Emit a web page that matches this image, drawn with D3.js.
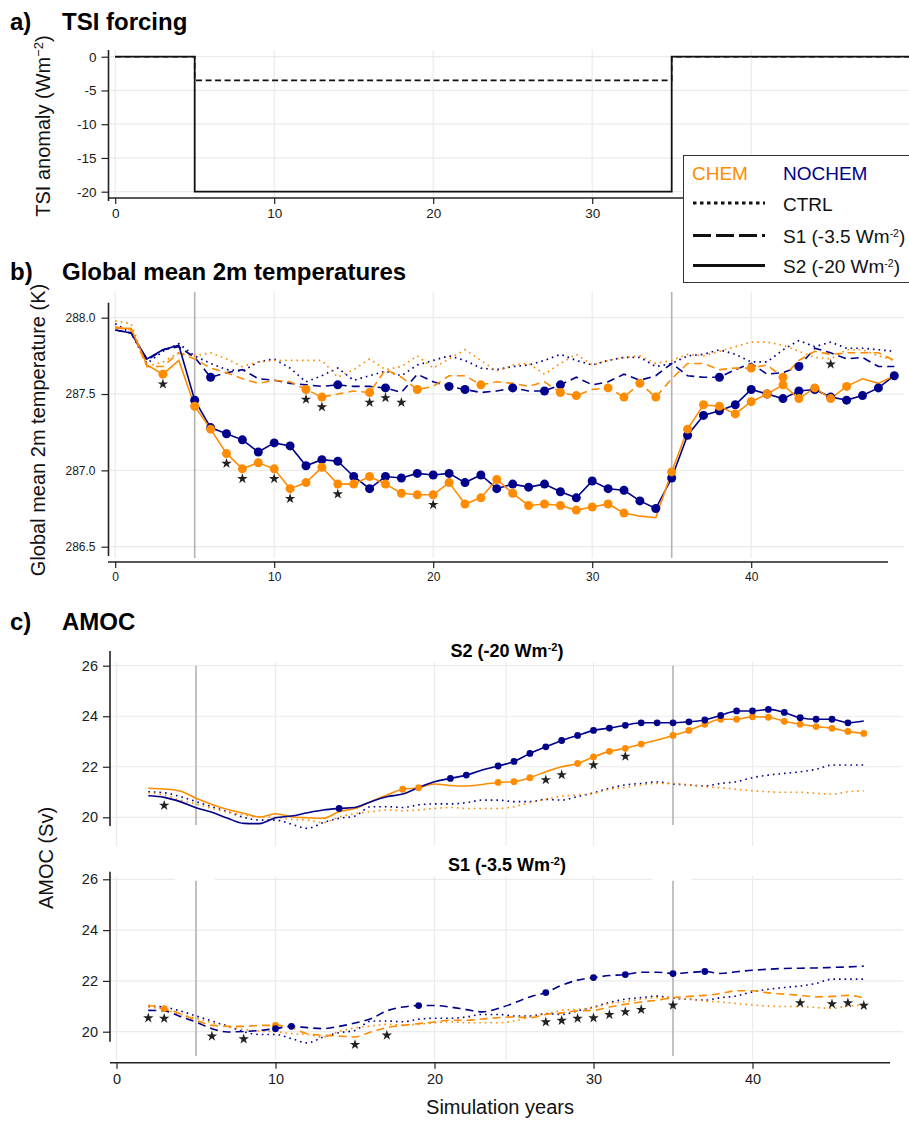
<!DOCTYPE html>
<html>
<head>
<meta charset="utf-8">
<script src="https://cdn.jsdelivr.net/npm/d3@7"></script>
<style>
  body { margin: 0; background: #fff; }
  text { font-family: "Liberation Sans", Arial, Helvetica, sans-serif; }
</style>
</head>
<body>
<div id="chart"></div>
<script>
// ---- data ----
// a) TSI forcing, step changes
const tsiYears = [0, 5, 35, 50];
const tsiS1 = [0, -3.5, 0, 0];
const tsiS2 = [0, -20, 0, 0];

// b) global mean 2m temperature (K), years 0..49
const tempYears = d3.range(0, 50);
const tempChemS2 = [287.93, 287.93, 287.69, 287.63, 287.72, 287.42, 287.27, 287.11, 287.01, 287.05,
  287.01, 286.88, 286.92, 287.02, 286.91, 286.91, 286.96, 286.91, 286.85, 286.84,
  286.84, 286.92, 286.78, 286.82, 286.94, 286.85, 286.77, 286.78, 286.77, 286.74,
  286.76, 286.78, 286.72, 286.70, 286.69, 286.99, 287.27, 287.43, 287.42, 287.37,
  287.45, 287.50, 287.56, 287.47, 287.54, 287.47, 287.55, 287.60, 287.57, 287.62];
const tempNochemS2 = [287.92, 287.90, 287.73, 287.79, 287.82, 287.46, 287.28, 287.24, 287.20, 287.12,
  287.18, 287.16, 287.03, 287.07, 287.06, 286.96, 286.88, 286.96, 286.95, 286.98,
  286.97, 286.98, 286.92, 286.97, 286.88, 286.91, 286.89, 286.91, 286.86, 286.82,
  286.93, 286.88, 286.87, 286.80, 286.75, 286.95, 287.23, 287.36, 287.39, 287.43,
  287.53, 287.50, 287.47, 287.52, 287.53, 287.48, 287.46, 287.49, 287.54, 287.62];
const tempChemS1 = [287.94, 287.92, 287.68, 287.68, 287.77, 287.73, 287.67, 287.64, 287.60, 287.57,
  287.59, 287.58, 287.53, 287.48, 287.50, 287.52, 287.51, 287.66, 287.61, 287.53,
  287.55, 287.62, 287.62, 287.56, 287.58, 287.57, 287.55, 287.58, 287.51, 287.49,
  287.53, 287.54, 287.48, 287.57, 287.48, 287.60, 287.70, 287.70, 287.66, 287.67,
  287.67, 287.69, 287.61, 287.72, 287.78, 287.76, 287.77, 287.77, 287.77, 287.72];
const tempNochemS1 = [287.92, 287.90, 287.72, 287.79, 287.81, 287.74, 287.61, 287.64, 287.66, 287.60,
  287.59, 287.57, 287.56, 287.55, 287.56, 287.55, 287.55, 287.54, 287.51, 287.63,
  287.58, 287.55, 287.53, 287.51, 287.52, 287.54, 287.52, 287.52, 287.56, 287.61,
  287.56, 287.58, 287.63, 287.59, 287.62, 287.70, 287.62, 287.61, 287.61, 287.66,
  287.70, 287.63, 287.64, 287.68, 287.80, 287.77, 287.73, 287.74, 287.68, 287.68];
const tempChemCtrl = [287.98, 287.96, 287.68, 287.71, 287.77, 287.75, 287.77, 287.73, 287.68, 287.71,
  287.72, 287.72, 287.72, 287.72, 287.61, 287.66, 287.73, 287.66, 287.68, 287.75,
  287.67, 287.73, 287.79, 287.72, 287.65, 287.69, 287.70, 287.63, 287.70, 287.76,
  287.69, 287.72, 287.74, 287.75, 287.70, 287.72, 287.76, 287.75, 287.78, 287.81,
  287.84, 287.84, 287.82, 287.78, 287.74, 287.73, 287.79, 287.79, 287.75, 287.72];
const tempNochemCtrl = [287.96, 287.90, 287.70, 287.78, 287.83, 287.75, 287.70, 287.66, 287.65, 287.71,
  287.73, 287.67, 287.58, 287.62, 287.67, 287.59, 287.62, 287.65, 287.62, 287.69,
  287.72, 287.75, 287.72, 287.67, 287.66, 287.68, 287.69, 287.72, 287.76, 287.72,
  287.69, 287.72, 287.74, 287.74, 287.68, 287.70, 287.75, 287.76, 287.79, 287.76,
  287.71, 287.71, 287.79, 287.85, 287.81, 287.84, 287.80, 287.80, 287.79, 287.78];
// years marked significant vs CTRL (dots) and CHEM vs NOCHEM (stars)
const tempChemS2Dots = [3, 5, 6, 7, 8, 9, 10, 11, 12, 13, 14, 15, 16, 17, 18, 19, 20, 21, 22, 23, 24, 25, 26,
  27, 28, 29, 30, 31, 32, 35, 36, 37, 38, 39, 40, 41, 42, 43, 44, 45, 46];
const tempNochemS2Dots = [5, 6, 7, 8, 9, 10, 11, 12, 13, 14, 15, 16, 17, 18, 19, 20, 21, 22, 23, 24, 25, 26,
  27, 28, 29, 30, 31, 32, 33, 34, 35, 36, 37, 38, 39, 40, 41, 42, 43, 44, 45, 46, 47, 48, 49];
const tempChemS1Dots = [12, 13, 16, 19, 23, 28, 29, 31, 32, 33, 34, 40, 42];
const tempNochemS1Dots = [6, 14, 17, 21, 22, 25, 27, 28, 38, 43];
const tempStarsS2 = [3, 7, 8, 10, 11, 14, 20];
const tempStarsS1 = [12, 13, 16, 17, 18, 45];

// c) AMOC (Sv), years 2..47
const amocYears = d3.range(2, 48);
const amocChemS2 = [21.15, 21.12, 21.04, 20.75, 20.51, 20.31, 20.16, 20.01, 20.14, 20.02,
  19.98, 19.96, 20.22, 20.35, 20.62, 20.88, 21.11, 21.17, 21.32, 21.26,
  21.24, 21.30, 21.38, 21.41, 21.57, 21.80, 22.00, 22.13, 22.39, 22.61,
  22.73, 22.90, 23.06, 23.24, 23.44, 23.68, 23.88, 23.88, 23.98, 23.96,
  23.80, 23.68, 23.59, 23.52, 23.40, 23.32];
const amocNochemS2 = [20.85, 20.79, 20.62, 20.38, 20.20, 19.96, 19.76, 19.75, 19.98, 20.05,
  20.18, 20.29, 20.35, 20.39, 20.62, 20.81, 20.92, 21.18, 21.41, 21.54,
  21.67, 21.87, 22.03, 22.21, 22.53, 22.79, 23.04, 23.24, 23.44, 23.53,
  23.64, 23.74, 23.74, 23.74, 23.78, 23.85, 24.03, 24.21, 24.21, 24.27,
  24.15, 23.94, 23.88, 23.88, 23.74, 23.81];
const amocChemS1 = [21.04, 20.91, 20.71, 20.45, 20.25, 20.21, 20.21, 20.25, 20.25, 20.16,
  19.92, 19.86, 19.83, 19.79, 19.99, 20.16, 20.25, 20.32, 20.38, 20.45,
  20.45, 20.50, 20.55, 20.58, 20.55, 20.68, 20.74, 20.82, 20.84, 20.97,
  21.08, 21.17, 21.24, 21.34, 21.39, 21.43, 21.50, 21.61, 21.61, 21.53,
  21.48, 21.43, 21.37, 21.39, 21.43, 21.33];
const amocNochemS1 = [20.84, 20.82, 20.60, 20.38, 20.12, 19.99, 20.01, 20.05, 20.12, 20.21,
  20.16, 20.12, 20.21, 20.34, 20.51, 20.82, 20.97, 21.03, 21.03, 20.97,
  20.87, 20.78, 20.91, 21.13, 21.37, 21.54, 21.83, 22.03, 22.13, 22.21,
  22.25, 22.34, 22.34, 22.29, 22.33, 22.37, 22.29, 22.36, 22.42, 22.46,
  22.49, 22.50, 22.51, 22.53, 22.55, 22.58];
const amocChemCtrl = [20.97, 20.88, 20.68, 20.53, 20.35, 20.21, 20.09, 20.02, 20.00, 19.92,
  19.89, 19.79, 20.01, 20.15, 20.22, 20.29, 20.26, 20.29, 20.35, 20.39,
  20.35, 20.35, 20.35, 20.42, 20.58, 20.71, 20.84, 20.88, 20.95, 21.11,
  21.18, 21.28, 21.34, 21.34, 21.28, 21.21, 21.17, 21.11, 21.05, 21.01,
  20.99, 20.99, 20.95, 20.92, 21.01, 21.05];
const amocNochemCtrl = [21.01, 20.97, 20.82, 20.62, 20.42, 20.22, 20.00, 19.89, 19.89, 19.73,
  19.56, 19.79, 19.96, 20.05, 20.42, 20.42, 20.39, 20.49, 20.53, 20.53,
  20.58, 20.68, 20.68, 20.62, 20.62, 20.71, 20.68, 20.82, 20.97, 21.15,
  21.28, 21.34, 21.40, 21.32, 21.28, 21.24, 21.34, 21.41, 21.57, 21.67,
  21.74, 21.80, 21.90, 22.07, 22.07, 22.07];
const amocChemS2Dots = [18, 19, 24, 25, 26, 29, 30, 31, 32, 33, 35, 36, 37, 38, 39, 40, 41, 42, 43, 44, 45, 46, 47];
const amocNochemS2Dots = [14, 21, 22, 24, 25, 26, 27, 28, 29, 30, 31, 32, 33, 34, 35, 36, 37, 38, 39, 40, 41, 42, 43, 44, 45, 46];
const amocChemS1Dots = [3, 10];
const amocNochemS1Dots = [10, 11, 19, 27, 30, 32, 35, 37];
const amocStarsS2 = [3, 27, 28, 30, 32];
const amocStarsS1 = [2, 3, 6, 8, 15, 17, 27, 28, 29, 30, 31, 32, 33, 35, 43, 45, 46, 47];

// forcing on / off
const forcingYears = [5, 35];
const xTicks = [0, 10, 20, 30, 40];
const amocGridYears = [0, 10, 20, 24.5, 30, 40];

// ---- setup ----
const orange = '#ff8c00';
const navy = '#00008b';
const gridCol = '#ebebeb';
const axisCol = '#222';
const font = '"Liberation Sans", Arial, Helvetica, sans-serif';

const svg = d3.select('#chart').append('svg')
  .attr('width', 909).attr('height', 1121)
  .style('background', '#fff');

function gridV(g, x, ticks, y0, y1) {
  g.selectAll(null).data(ticks).enter().append('line')
    .attr('x1', d => x(d)).attr('x2', d => x(d))
    .attr('y1', y0).attr('y2', y1)
    .attr('stroke', gridCol).attr('stroke-width', 1.2);
}
function gridH(g, y, ticks, x0, x1) {
  g.selectAll(null).data(ticks).enter().append('line')
    .attr('x1', x0).attr('x2', x1)
    .attr('y1', d => y(d)).attr('y2', d => y(d))
    .attr('stroke', gridCol).attr('stroke-width', 1.2);
}
function refLines(g, x, y0, y1) {
  g.selectAll(null).data(forcingYears).enter().append('line')
    .attr('x1', d => x(d)).attr('x2', d => x(d))
    .attr('y1', y0).attr('y2', y1)
    .attr('stroke', '#b3b3b3').attr('stroke-width', 1.6);
}
function styleAxis(ax, fs) {
  ax.select('.domain').remove();
  ax.attr('font-family', font).attr('font-size', fs);
  ax.selectAll('.tick line').attr('stroke', axisCol).attr('stroke-width', 1.2);
  ax.selectAll('.tick text').attr('fill', '#1a1a1a');
}
function leftAxis(g, y, ticks, x, y0, y1, fs, fmt, pad) {
  const ax = g.append('g').attr('transform', `translate(${x},0)`)
    .call(d3.axisLeft(y).tickValues(ticks).tickSize(7).tickSizeOuter(0).tickPadding(pad).tickFormat(fmt));
  styleAxis(ax, fs);
  ax.append('line').attr('y1', y0).attr('y2', y1).attr('stroke', axisCol).attr('stroke-width', 1.6);
}
function bottomAxis(g, x, yPos, x0, x1, fs, pad) {
  const ax = g.append('g').attr('transform', `translate(0,${yPos})`)
    .call(d3.axisBottom(x).tickValues(xTicks).tickSize(6).tickSizeOuter(0).tickPadding(pad).tickFormat(d => String(d)));
  styleAxis(ax, fs);
  ax.append('line').attr('x1', x0).attr('x2', x1).attr('stroke', axisCol).attr('stroke-width', 1.6);
}
function series(g, x, y, years, vals, color, dash, w, curve) {
  const line = d3.line().x(d => x(d[0])).y(d => y(d[1])).curve(curve || d3.curveLinear);
  g.append('path').datum(years.map((yr, i) => [yr, vals[i]]))
    .attr('d', line).attr('fill', 'none')
    .attr('stroke', color).attr('stroke-width', w)
    .attr('stroke-dasharray', dash);
}
function dots(g, x, y, years, vals, dotYears, color, r) {
  g.selectAll(null).data(dotYears).enter().append('circle')
    .attr('cx', d => x(d)).attr('cy', d => y(vals[years.indexOf(d)]))
    .attr('r', r).attr('fill', color);
}
function stars(g, x, y, years, a, b, starYears, offset) {
  g.selectAll(null).data(starYears).enter().append('path')
    .attr('d', d3.symbol().type(d3.symbolStar).size(34))
    .attr('transform', d => {
      const i = years.indexOf(d);
      return `translate(${x(d)},${y(Math.min(a[i], b[i]) - offset)})`;
    })
    .attr('fill', '#222');
}
function panelTitle(letter, title, yBase) {
  svg.append('text').attr('x', 10).attr('y', yBase).attr('font-size', 24).attr('font-weight', 'bold').text(letter);
  svg.append('text').attr('x', 62).attr('y', yBase).attr('font-size', 24).attr('font-weight', 'bold').text(title);
}
function wm2(sel, pre, post, sup) {
  sel.append('tspan').text(pre);
  sel.append('tspan').attr('font-size', sup).attr('baseline-shift', 'super').text('-2');
  sel.append('tspan').text(post);
}
function yTitle(xBase, yMid, build) {
  const t = svg.append('text').attr('transform', `translate(${xBase},${yMid}) rotate(-90)`)
    .attr('text-anchor', 'middle').attr('font-size', 20).attr('fill', '#111');
  build(t);
}

// ---- a) TSI forcing ----
panelTitle('a)', 'TSI forcing', 30);
const xA = d3.scaleLinear().domain([0, 49]).range([115.2, 894.3]);
const yA = d3.scaleLinear().domain([0, -20]).range([56.7, 191.7]);
const gA = svg.append('g');
gridV(gA, xA, xTicks, 50, 198);
gridH(gA, yA, [0, -5, -10, -15, -20], 110, 909);
series(gA, xA, yA, tsiYears, tsiS1, '#111', '6,3.5', 1.6, d3.curveStepAfter);
series(gA, xA, yA, tsiYears, tsiS2, '#111', null, 1.8, d3.curveStepAfter);
leftAxis(gA, yA, [0, -5, -10, -15, -20], 108.5, 50, 201, 13.5, d => String(d), 5);
bottomAxis(gA, xA, 198, 108, 888, 13.5, 4);
yTitle(50, 126, t => {
  t.append('tspan').text('TSI anomaly (Wm');
  t.append('tspan').attr('font-size', 13).attr('baseline-shift', 'super').text('\u22122');
  t.append('tspan').text(')');
});

// ---- b) Global mean 2m temperatures ----
panelTitle('b)', 'Global mean 2m temperatures', 280);
const xB = xA;
const yB = d3.scaleLinear().domain([288, 286.5]).range([317.7, 546.7]);
const gB = svg.append('g');
gridV(gB, xB, xTicks, 292, 558);
gridH(gB, yB, [288, 287.5, 287, 286.5], 110, 904);
refLines(gB, xB, 292, 558);
series(gB, xB, yB, tempYears, tempNochemCtrl, navy, '1.6,4', 1.7);
series(gB, xB, yB, tempYears, tempChemCtrl, orange, '1.6,4', 1.7);
series(gB, xB, yB, tempYears, tempNochemS1, navy, '8,5', 1.6);
series(gB, xB, yB, tempYears, tempChemS1, orange, '8,5', 1.6);
series(gB, xB, yB, tempYears, tempNochemS2, navy, null, 1.6);
series(gB, xB, yB, tempYears, tempChemS2, orange, null, 1.6);
dots(gB, xB, yB, tempYears, tempNochemS1, tempNochemS1Dots, navy, 4.5);
dots(gB, xB, yB, tempYears, tempChemS1, tempChemS1Dots, orange, 4.5);
dots(gB, xB, yB, tempYears, tempNochemS2, tempNochemS2Dots, navy, 4.5);
dots(gB, xB, yB, tempYears, tempChemS2, tempChemS2Dots, orange, 4.5);
stars(gB, xB, yB, tempYears, tempChemS2, tempNochemS2, tempStarsS2, 0.065);
stars(gB, xB, yB, tempYears, tempChemS1, tempNochemS1, tempStarsS1, 0.065);
leftAxis(gB, yB, [288, 287.5, 287, 286.5], 108.5, 302.7, 556, 12, d3.format('.1f'), 6);
bottomAxis(gB, xB, 562, 108, 888, 12, 4);
yTitle(45, 430, t => t.text('Global mean 2m temperature (K)'));

// ---- c) AMOC ----
panelTitle('c)', 'AMOC', 630);
const xC = d3.scaleLinear().domain([0, 49]).range([116.5, 895.6]);
const amocTicks = [26, 24, 22, 20];

function amocPanel(y, bottom, vTop, axTop, axBottom, refTop, refBottom, strip, stripBase, lines) {
  const g = svg.append('g');
  gridV(g, xC, amocGridYears, vTop, bottom);
  gridH(g, y, amocTicks, 110, 903);
  refLines(g, xC, refTop, refBottom);
  lines(g, y);
  leftAxis(g, y, amocTicks, 110, axTop, axBottom, 14.5, d => String(d), 5);
  const st = svg.append('text').attr('x', 507).attr('y', stripBase)
    .attr('text-anchor', 'middle').attr('font-size', 18).attr('font-weight', 'bold');
  wm2(st, strip, ')', 11);
  return g;
}

const yCt = d3.scaleLinear().domain([26, 20]).range([665.7, 817.3]);
amocPanel(yCt, 846, 662, 651, 826, 665.7, 825, 'S2 (-20 Wm', 657, (g, y) => {
  const c = d3.curveMonotoneX;
  series(g, xC, y, amocYears, amocNochemCtrl, navy, '1.6,4', 1.6, c);
  series(g, xC, y, amocYears, amocChemCtrl, orange, '1.6,4', 1.6, c);
  series(g, xC, y, amocYears, amocChemS2, orange, null, 1.6, c);
  series(g, xC, y, amocYears, amocNochemS2, navy, null, 1.6, c);
  dots(g, xC, y, amocYears, amocChemS2, amocChemS2Dots, orange, 3.4);
  dots(g, xC, y, amocYears, amocNochemS2, amocNochemS2Dots, navy, 3.4);
  stars(g, xC, y, amocYears, amocChemS2, amocNochemS2, amocStarsS2, 0.32);
});

const yCb = d3.scaleLinear().domain([26, 20]).range([879.3, 1031.7]);
const gCb = amocPanel(yCb, 1060, 876, 871.7, 1041.7, 880, 1056, 'S1 (-3.5 Wm', 871, (g, y) => {
  const c = d3.curveMonotoneX;
  series(g, xC, y, amocYears, amocNochemCtrl, navy, '1.6,4', 1.6, c);
  series(g, xC, y, amocYears, amocChemCtrl, orange, '1.6,4', 1.6, c);
  series(g, xC, y, amocYears, amocChemS1, orange, '8,5', 1.6, c);
  series(g, xC, y, amocYears, amocNochemS1, navy, '8,5', 1.6, c);
  dots(g, xC, y, amocYears, amocChemS1, amocChemS1Dots, orange, 3.4);
  dots(g, xC, y, amocYears, amocNochemS1, amocNochemS1Dots, navy, 3.4);
  stars(g, xC, y, amocYears, amocChemS1, amocNochemS1, amocStarsS1, 0.3);
});
// little white gaps in the top gridline next to the forcing lines
gCb.selectAll(null).data(forcingYears).enter().append('rect')
  .attr('x', d => xC(d) - 21).attr('y', yCb(26) - 1.5)
  .attr('width', 40).attr('height', 3).attr('fill', '#fff');
bottomAxis(gCb, xC, 1062.7, 110, 890, 14.5, 5);

yTitle(53, 858, t => t.text('AMOC (Sv)'));
svg.append('text').attr('x', 500).attr('y', 1114).attr('text-anchor', 'middle')
  .attr('font-size', 20).attr('fill', '#111').text('Simulation years');

// ---- legend ----
const lg = svg.append('g');
lg.append('rect').attr('x', 683.5).attr('y', 155.5).attr('width', 240).attr('height', 127)
  .attr('fill', '#fff').attr('stroke', '#333').attr('stroke-width', 1);
lg.append('text').attr('x', 692).attr('y', 179.5).attr('font-size', 19).attr('fill', orange).text('CHEM');
lg.append('text').attr('x', 783).attr('y', 179.5).attr('font-size', 19).attr('fill', navy).text('NOCHEM');
const legendRows = [
  { label: 'CTRL', dash: '3.5,3.5', y: 203 },
  { label: 'S1 (-3.5 Wm', dash: '18,5', y: 235.5 },
  { label: 'S2 (-20 Wm', dash: null, y: 265.5 }
];
legendRows.forEach((r, i) => {
  lg.append('line').attr('x1', 693).attr('x2', 765).attr('y1', r.y).attr('y2', r.y)
    .attr('stroke', '#111').attr('stroke-width', 3).attr('stroke-dasharray', r.dash);
  const t = lg.append('text').attr('x', 783).attr('y', r.y + 7.5).attr('font-size', 19).attr('fill', '#111');
  if (i === 0) t.text(r.label);
  else wm2(t, r.label, ')', 10.5);
});
</script>
</body>
</html>
